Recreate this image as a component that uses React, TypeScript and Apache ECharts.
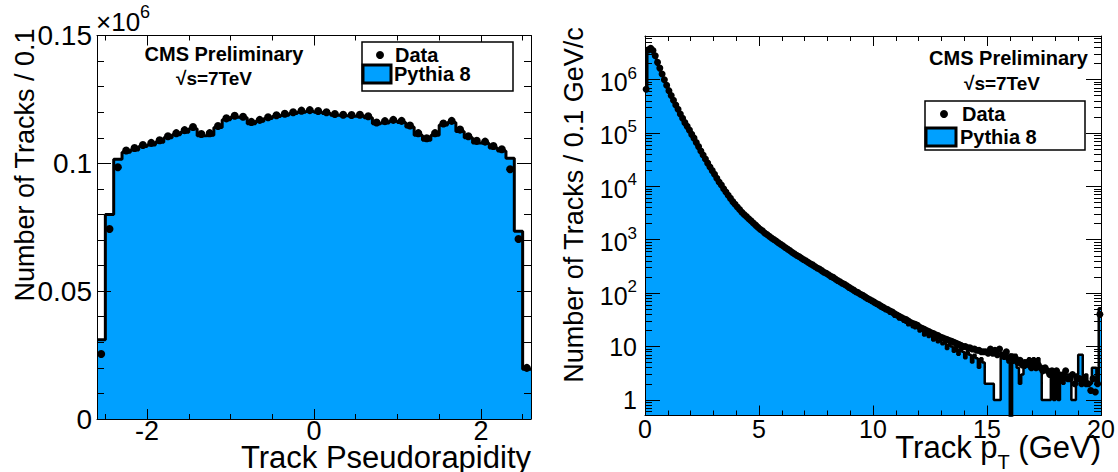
import React, { useEffect, useRef } from "react";
import * as echarts from "echarts";

// ---------- Left panel: track pseudorapidity (values in units of 10^6 tracks) ----------
const ETA_MIN = -2.6;
const ETA_MAX = 2.6;
const ETA_BIN = 0.1;
const etaPythia = [
  0.031, 0.08, 0.1016, 0.1043, 0.1052, 0.1066, 0.1072, 0.1082, 0.11, 0.1112,
  0.1122, 0.1135, 0.1108, 0.111, 0.114, 0.117, 0.118, 0.1178, 0.1155, 0.1165,
  0.1175, 0.1183, 0.1188, 0.1195, 0.12, 0.1203, 0.12, 0.1195, 0.1188, 0.1186,
  0.1184, 0.1186, 0.1178, 0.1155, 0.1158, 0.1165, 0.116, 0.1142, 0.111, 0.109,
  0.111, 0.115, 0.116, 0.1125, 0.11, 0.108, 0.1078, 0.106, 0.1048, 0.102,
  0.0734, 0.0195,
];
const etaData = [
  0.0254, 0.0743, 0.0985, 0.105, 0.106, 0.1072, 0.108, 0.109, 0.1106, 0.1118,
  0.113, 0.1142, 0.1115, 0.1118, 0.1146, 0.1176, 0.1186, 0.1182, 0.1162, 0.117,
  0.118, 0.1188, 0.1194, 0.12, 0.1206, 0.1208, 0.1205, 0.12, 0.1193, 0.119,
  0.1189, 0.119, 0.1184, 0.116, 0.1165, 0.117, 0.1166, 0.1148, 0.1118, 0.1098,
  0.1118, 0.1156, 0.1166, 0.1132, 0.1106, 0.1088, 0.1085, 0.1068, 0.1055, 0.0977,
  0.0704, 0.02,
];
const etaMajorTicks = [-2, 0, 2];
const etaMinorTicks = [-2.5, -1.5, -1, -0.5, 0.5, 1, 1.5, 2.5];
const etaYMax = 0.15;

// ---------- Right panel: track pT ----------
const PT_MIN = 0;
const PT_MAX = 20;
const PT_BIN = 0.1;
const ptPythia = [
  631000, 3630000, 3800000, 3550000, 2750000, 2090000, 1620000, 1260000, 977000, 776000,
  617000, 501000, 407000, 331000, 275000, 224000, 186000, 155000, 132000, 112000,
  93300, 79400, 66100, 55000, 45700, 38000, 32400, 26900, 22900, 19500,
  16600, 14100, 12000, 10500, 8910, 7760, 6760, 5890, 5130, 4570,
  4070, 3630, 3240, 2950, 2690, 2450, 2240, 2040, 1860, 1700,
  1550, 1450, 1320, 1230, 1150, 1070, 1000, 933, 871, 813,
  759, 708, 661, 617, 575, 537, 501, 479, 447, 417,
  395, 368, 350, 322, 309, 290, 270, 258, 236, 230,
  210, 203, 185, 180, 160, 158, 150, 136, 134, 118,
  119, 104, 103, 95, 90, 84, 80, 73, 73, 66,
  62, 61, 55, 52, 50, 46, 47, 41, 40, 36,
  35, 32, 33, 29, 28, 25, 27, 23, 22, 24,
  19, 20, 16, 18, 15, 16, 13, 15, 12, 13,
  11, 12, 9, 11, 10, 8, 10, 7, 9, 8,
  6, 8, 7, 5, 7, 6, 4, 6, 5, 2,
  2, 2, 2, 1, 1, 1, 7, 6, 7, 5,
  0, 7, 7, 4, 2, 3, 4, 5, 6, 5,
  6, 5, 6, 4, 1, 1, 1, 1, 3, 1,
  3, 1, 3, 2, 3, 3, 3, 1, 1, 3,
  7, 7, 2, 3, 2, 2, 4, 4, 2, 52,
];
const ptData = [
  660000, 3600000, 3850000, 3500000, 2800000, 2100000, 1640000, 1270000, 990000, 780000,
  620000, 505000, 410000, 335000, 277000, 226000, 188000, 156000, 133000, 113000,
  94000, 80000, 66500, 55500, 46000, 38500, 32600, 27200, 23100, 19700,
  16800, 14200, 12100, 10600, 9000, 7850, 6820, 5950, 5180, 4620,
  4110, 3670, 3280, 2980, 2720, 2480, 2260, 2060, 1880, 1720,
  1570, 1470, 1340, 1250, 1160, 1080, 1010, 945, 880, 825,
  770, 718, 670, 626, 584, 545, 510, 487, 455, 425,
  405, 380, 355, 338, 316, 295, 282, 264, 246, 235,
  220, 206, 197, 184, 172, 163, 153, 146, 137, 128,
  121, 114, 106, 102, 95, 91, 85, 80, 76, 72,
  68, 64, 61, 57, 54, 51, 49, 46, 44, 41,
  39, 37, 35, 33, 32, 30, 28, 27, 26, 25,
  23, 22, 21, 20, 19, 18, 17.5, 16.5, 16, 15,
  14.5, 14, 13.5, 13, 12.5, 12, 11.5, 11, 10.5, 10,
  10, 9.5, 9.5, 9, 9, 8.5, 8.5, 8, 8, 8,
  7.5, 9, 7.5, 8.5, 7, 9, 7, 6.5, 8, 6,
  6.5, 5.5, 6, 5, 5.5, 4.5, 5, 5, 4.5, 4,
  5, 4, 4.5, 4, 3.5, 4, 3.5, 3, 3.5, 3,
  3.5, 3, 2.5, 3, 3.5, 2.5, 2.5, 3, 2, 2.5,
  2.5, 2, 2.5, 2, 2, 1.5, 2.5, 1.4, 2, 40,
];
const ptMajorTicks = [0, 5, 10, 15, 20];
const logMajorTicks = [1, 10, 100, 1000, 10000, 100000, 1000000];
const PT_YMIN = 0.51;
const PT_YMAX = 6.55e6;

// ---------- style ----------
const FONT = "'Liberation Sans', Arial, Helvetica, sans-serif";
const BLACK = "#000000";
const FILL = "#00A0FF";

function logMinorTicks(lo: number, hi: number): number[] {
  const out: number[] = [];
  for (let e = -1; e <= 7; e++) {
    for (let m = 2; m <= 9; m++) {
      const v = m * Math.pow(10, e);
      if (v > lo && v < hi) out.push(v);
    }
  }
  return out;
}

function stepPoints(min: number, w: number, vals: number[], floor: number) {
  const pts = vals.map((v, i) => [+(min + i * w).toFixed(3), v > 0 ? v : floor]);
  const last = vals[vals.length - 1];
  pts.push([+(min + vals.length * w).toFixed(3), last > 0 ? last : floor]);
  return pts;
}
function centerPoints(min: number, w: number, vals: number[]) {
  return vals.map((v, i) => [+(min + (i + 0.5) * w).toFixed(3), v]);
}

const noSplit = { show: false };
const tickStyle = { color: BLACK, width: 1 };

function frameAxis(extra: any) {
  return {
    type: "value",
    z: 5,
    splitLine: noSplit,
    axisLine: { show: true, onZero: false, lineStyle: { color: BLACK, width: 1 } },
    ...extra,
  };
}

export default function App() {
  const ref = useRef<HTMLDivElement>(null);
  useEffect(() => {
    if (!ref.current) return;
    const chart = echarts.init(ref.current, undefined, { renderer: "svg" });
    const minorLog = logMinorTicks(PT_YMIN, PT_YMAX);

    const xAxis: any[] = [
      // left panel
      frameAxis({
        gridIndex: 0, position: "bottom", min: ETA_MIN, max: ETA_MAX,
        axisTick: { show: true, inside: true, length: 10, customValues: etaMajorTicks, lineStyle: tickStyle },
        axisLabel: { show: true, customValues: etaMajorTicks, fontSize: 27, lineHeight: 22, fontFamily: FONT, color: BLACK, margin: 1 },
      }),
      frameAxis({
        gridIndex: 0, position: "bottom", min: ETA_MIN, max: ETA_MAX, axisLine: { show: false, onZero: false },
        axisTick: { show: true, inside: true, length: 5, customValues: etaMinorTicks, lineStyle: tickStyle },
        axisLabel: { show: false },
      }),
      frameAxis({
        gridIndex: 0, position: "top", min: ETA_MIN, max: ETA_MAX,
        axisTick: { show: true, inside: true, length: 10, customValues: etaMajorTicks, lineStyle: tickStyle },
        axisLabel: { show: false },
      }),
      frameAxis({
        gridIndex: 0, position: "top", min: ETA_MIN, max: ETA_MAX, axisLine: { show: false, onZero: false },
        axisTick: { show: true, inside: true, length: 5, customValues: etaMinorTicks, lineStyle: tickStyle },
        axisLabel: { show: false },
      }),
      // right panel
      frameAxis({
        gridIndex: 1, position: "bottom", min: PT_MIN, max: PT_MAX, interval: 5,
        axisTick: { show: true, inside: true, length: 10, lineStyle: tickStyle },
        minorTick: { show: true, splitNumber: 5, length: 5, lineStyle: tickStyle },
        axisLabel: { show: true, customValues: ptMajorTicks, fontSize: 25, lineHeight: 20, fontFamily: FONT, color: BLACK, margin: 3 },
      }),
      frameAxis({
        gridIndex: 1, position: "top", min: PT_MIN, max: PT_MAX, interval: 5,
        axisTick: { show: true, inside: true, length: 10, lineStyle: tickStyle },
        minorTick: { show: true, splitNumber: 5, length: 5, lineStyle: tickStyle },
        axisLabel: { show: false },
      }),
    ];

    const logLabel = (v: number) => {
      const e = Math.round(Math.log10(v));
      if (e === 0) return "1";
      if (e === 1) return "10";
      return `{b|10}{s|${e}}`;
    };

    const yAxis: any[] = [
      frameAxis({
        gridIndex: 0, position: "left", min: 0, max: etaYMax, interval: 0.05,
        axisTick: { show: true, inside: true, length: 14, lineStyle: tickStyle },
        minorTick: { show: true, splitNumber: 5, length: 7, lineStyle: tickStyle },
        axisLabel: { show: true, fontSize: 28, fontFamily: FONT, color: BLACK, margin: 5 },
      }),
      frameAxis({
        gridIndex: 0, position: "right", min: 0, max: etaYMax, interval: 0.05,
        axisTick: { show: true, inside: true, length: 14, lineStyle: tickStyle },
        minorTick: { show: true, splitNumber: 5, length: 7, lineStyle: tickStyle },
        axisLabel: { show: false },
      }),
      frameAxis({
        type: "log", logBase: 10, gridIndex: 1, position: "left", min: PT_YMIN, max: PT_YMAX,
        axisTick: { show: true, inside: true, length: 15, customValues: logMajorTicks, lineStyle: tickStyle },
        axisLabel: {
          show: true, customValues: logMajorTicks, formatter: logLabel, fontSize: 25, fontFamily: FONT, color: BLACK, margin: 8,
          rich: {
            b: { fontSize: 25, fontFamily: FONT, color: BLACK, lineHeight: 30, verticalAlign: "bottom" },
            s: { fontSize: 17, fontFamily: FONT, color: BLACK, lineHeight: 17, verticalAlign: "top" },
          },
        },
      }),
      frameAxis({
        type: "log", logBase: 10, gridIndex: 1, position: "left", min: PT_YMIN, max: PT_YMAX, axisLine: { show: false, onZero: false },
        axisTick: { show: true, inside: true, length: 7, customValues: minorLog, lineStyle: tickStyle },
        axisLabel: { show: false },
      }),
      frameAxis({
        type: "log", logBase: 10, gridIndex: 1, position: "right", min: PT_YMIN, max: PT_YMAX,
        axisTick: { show: true, inside: true, length: 15, customValues: logMajorTicks, lineStyle: tickStyle },
        axisLabel: { show: false },
      }),
      frameAxis({
        type: "log", logBase: 10, gridIndex: 1, position: "right", min: PT_YMIN, max: PT_YMAX, axisLine: { show: false, onZero: false },
        axisTick: { show: true, inside: true, length: 7, customValues: minorLog, lineStyle: tickStyle },
        axisLabel: { show: false },
      }),
    ];

    const series: any[] = [
      {
        type: "line", xAxisIndex: 0, yAxisIndex: 0, step: "end", symbol: "none", clip: true, z: 2,
        data: stepPoints(ETA_MIN, ETA_BIN, etaPythia, 0),
        lineStyle: { color: BLACK, width: 3 },
        areaStyle: { color: FILL, opacity: 1, origin: 0 },
      },
      {
        type: "scatter", xAxisIndex: 0, yAxisIndex: 0, symbol: "circle", symbolSize: 8, z: 4,
        data: centerPoints(ETA_MIN, ETA_BIN, etaData),
        itemStyle: { color: BLACK, opacity: 1 },
      },
      {
        type: "line", xAxisIndex: 4, yAxisIndex: 2, step: "end", symbol: "none", clip: true, z: 2,
        data: stepPoints(PT_MIN, PT_BIN, ptPythia, PT_YMIN * 0.4),
        lineStyle: { color: BLACK, width: 2.5 },
        areaStyle: { color: FILL, opacity: 1, origin: PT_YMIN },
      },
      {
        type: "scatter", xAxisIndex: 4, yAxisIndex: 2, symbol: "circle", symbolSize: 7, z: 4, clip: true,
        data: centerPoints(PT_MIN, PT_BIN, ptData),
        itemStyle: { color: BLACK, opacity: 1 },
      },
    ];

    const bold = (size: number) => `bold ${size}px ${FONT}`;
    const graphic: any[] = [
      // axis titles
      {
        type: "text", x: 25, y: 165, rotation: Math.PI / 2,
        style: { text: "Number of Tracks / 0.1", font: `27px ${FONT}`, fill: BLACK, align: "center", verticalAlign: "middle" },
      },
      {
        type: "text", x: 574, y: 205, rotation: Math.PI / 2,
        style: { text: "Number of Tracks / 0.1 GeV/c", font: `27px ${FONT}`, fill: BLACK, align: "center", verticalAlign: "middle" },
      },
      {
        type: "text", x: 531, y: 457,
        style: { text: "Track Pseudorapidity", font: `31px ${FONT}`, lineHeight: 28, fill: BLACK, align: "right", verticalAlign: "middle" },
      },
      {
        type: "text", x: 1101, y: 452,
        style: {
          text: "{a|Track p}{t|T}{a| (GeV)}", align: "right", verticalAlign: "middle",
          rich: {
            a: { fontSize: 31, fontFamily: FONT, fill: BLACK, lineHeight: 40, verticalAlign: "top" },
            t: { fontSize: 20, fontFamily: FONT, fill: BLACK, lineHeight: 20, verticalAlign: "bottom" },
          },
        },
      },
      {
        type: "text", x: 96, y: 19,
        style: {
          text: "{a|×10}{s|6}", align: "left", verticalAlign: "middle",
          rich: {
            a: { fontSize: 26, fontFamily: FONT, fill: BLACK, lineHeight: 32, verticalAlign: "bottom" },
            s: { fontSize: 18, fontFamily: FONT, fill: BLACK, lineHeight: 18, verticalAlign: "top" },
          },
        },
      },
      // left annotations
      { type: "text", x: 224, y: 54, style: { text: "CMS Preliminary", font: bold(20), fill: BLACK, align: "center", verticalAlign: "middle" } },
      { type: "text", x: 214, y: 78, style: { text: "√s=7TeV", font: bold(19), fill: BLACK, align: "center", verticalAlign: "middle" } },
      { type: "rect", shape: { x: 362, y: 42, width: 151, height: 49 }, style: { fill: "#fff", stroke: BLACK, lineWidth: 1.5 }, z: 10 },
      { type: "circle", shape: { cx: 380, cy: 55, r: 4 }, style: { fill: BLACK }, z: 11 },
      { type: "text", x: 395, y: 55, z: 11, style: { text: "Data", font: bold(20), fill: BLACK, align: "left", verticalAlign: "middle" } },
      { type: "rect", shape: { x: 363, y: 65, width: 28, height: 18 }, style: { fill: FILL, stroke: BLACK, lineWidth: 3 }, z: 11 },
      { type: "text", x: 394, y: 74, z: 11, style: { text: "Pythia 8", font: bold(20), fill: BLACK, align: "left", verticalAlign: "middle" } },
      // right annotations
      { type: "text", x: 1088, y: 58, style: { text: "CMS Preliminary", font: bold(20), fill: BLACK, align: "right", verticalAlign: "middle" } },
      { type: "text", x: 1002, y: 83, style: { text: "√s=7TeV", font: bold(19), fill: BLACK, align: "center", verticalAlign: "middle" } },
      { type: "rect", shape: { x: 925, y: 101, width: 160, height: 49 }, style: { fill: "#fff", stroke: BLACK, lineWidth: 1.5 }, z: 10 },
      { type: "circle", shape: { cx: 944, cy: 114, r: 4 }, style: { fill: BLACK }, z: 11 },
      { type: "text", x: 962, y: 114, z: 11, style: { text: "Data", font: bold(20), fill: BLACK, align: "left", verticalAlign: "middle" } },
      { type: "rect", shape: { x: 926, y: 128, width: 30, height: 18 }, style: { fill: FILL, stroke: BLACK, lineWidth: 3 }, z: 11 },
      { type: "text", x: 960, y: 137, z: 11, style: { text: "Pythia 8", font: bold(20), fill: BLACK, align: "left", verticalAlign: "middle" } },
    ];

    chart.setOption({
      animation: false,
      backgroundColor: "#ffffff",
      grid: [
        { left: 97, top: 35.5, width: 434, height: 383.5 },
        { left: 645, top: 36, width: 456, height: 379.5 },
      ],
      xAxis,
      yAxis,
      series,
      graphic,
    });
    return () => chart.dispose();
  }, []);

  return (
    <div
      ref={ref}
      style={{ position: "fixed", left: 0, top: 0, width: 1118, height: 472, background: "#fff" }}
    />
  );
}
